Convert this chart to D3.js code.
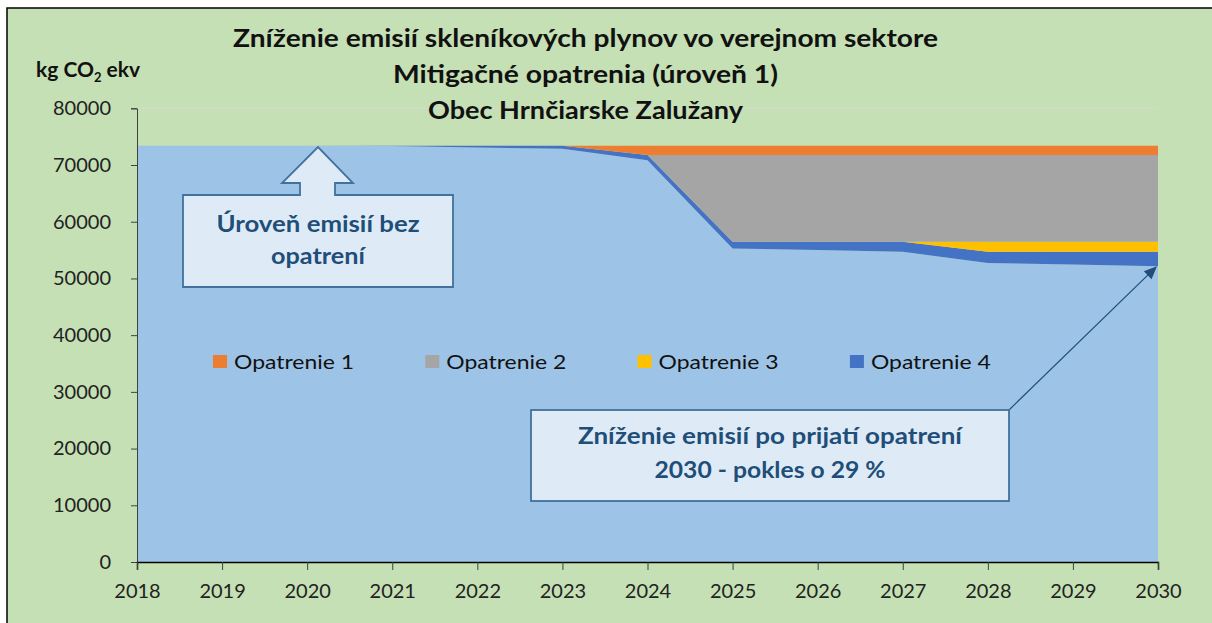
<!DOCTYPE html>
<html>
<head>
<meta charset="utf-8">
<script src="https://cdn.jsdelivr.net/npm/d3@7"></script>
<style>
	body { margin: 0; background: #fff; }
	svg { display: block; font-family: Lato, "Open Sans", sans-serif; }
</style>
</head>
<body>
<div id="chart"></div>
<script>
// roky a hodnoty (kg CO2 ekv) odčítané z grafu
const years = [2018, 2019, 2020, 2021, 2022, 2023, 2024, 2025, 2026, 2027, 2028, 2029, 2030];
const zostatok = [73400, 73400, 73400, 73350, 73100, 72850, 70850, 55300, 55000, 54700, 52740, 52470, 52170];
const opatrenie4 = [0, 0, 0, 50, 300, 550, 900, 1150, 1450, 1750, 1950, 2220, 2520];
const opatrenie3 = [0, 0, 0, 0, 0, 0, 0, 0, 0, 0, 1760, 1760, 1760];
const opatrenie2 = [0, 0, 0, 0, 0, 0, 0, 15300, 15300, 15300, 15300, 15300, 15300];
const opatrenie1 = [0, 0, 0, 0, 0, 0, 1650, 1650, 1650, 1650, 1650, 1650, 1650];

const yTicks = [0, 10000, 20000, 30000, 40000, 50000, 60000, 70000, 80000];
const legendNames = ["Opatrenie 1", "Opatrenie 2", "Opatrenie 3", "Opatrenie 4"];
const titleLines = [
	"Zníženie emisií skleníkových plynov vo verejnom sektore",
	"Mitigačné opatrenia (úroveň 1)",
	"Obec Hrnčiarske Zalužany"
];

const keys = ["zostatok", "op4", "op3", "op2", "op1"];
const colors = { zostatok: "#9DC3E6", op4: "#4472C4", op3: "#FFC000", op2: "#A5A5A5", op1: "#ED7D31" };
const legendKeys = ["op1", "op2", "op3", "op4"];

const table = years.map((y, i) => ({
	year: y,
	zostatok: zostatok[i],
	op4: opatrenie4[i],
	op3: opatrenie3[i],
	op2: opatrenie2[i],
	op1: opatrenie1[i]
}));

const W = 1212, H = 623;
const svg = d3.select("#chart")
	.append("svg")
	.attr("width", W)
	.attr("height", H);

svg.append("rect")
	.attr("x", 7).attr("y", 8)
	.attr("width", 1300).attr("height", 700)
	.attr("fill", "#C5E0B4")
	.attr("stroke", "#000")
	.attr("stroke-width", 1.5);

const x = d3.scaleLinear().domain([2018, 2030]).range([137, 1158]);
const y = d3.scaleLinear().domain([0, 80000]).range([562, 108.3]);

// mriežka
svg.append("g")
	.selectAll("line")
	.data(yTicks.slice(1))
	.enter()
	.append("line")
	.attr("x1", x(2018)).attr("x2", x(2030))
	.attr("y1", (d) => y(d)).attr("y2", (d) => y(d))
	.attr("stroke", "#D9D9D9")
	.attr("stroke-width", 1);

const stack = d3.stack().keys(keys);
const area = d3.area()
	.x((d) => x(d.data.year))
	.y0((d) => y(d[0]))
	.y1((d) => y(d[1]));

svg.append("g")
	.selectAll("path")
	.data(stack(table))
	.enter()
	.append("path")
	.attr("fill", (d) => colors[d.key])
	.attr("d", area);

// osi
const yAxis = svg.append("g")
	.attr("transform", "translate(" + x(2018) + ",0)")
	.call(d3.axisLeft(y).tickValues(yTicks).tickSize(6).tickPadding(20).tickFormat(d3.format("d")));
yAxis.select(".domain").attr("stroke", "#404040");
yAxis.selectAll(".tick line").attr("stroke", "#404040");
yAxis.selectAll("text")
	.attr("font-size", 20)
	.attr("fill", "#222")
	.attr("font-family", "Lato, sans-serif");

const xAxis = svg.append("g")
	.attr("transform", "translate(0," + y(0) + ")")
	.call(d3.axisBottom(x).tickValues(years).tickSize(8).tickPadding(14).tickFormat(d3.format("d")));
xAxis.select(".domain").attr("stroke", "#000").attr("stroke-width", 1.5);
xAxis.selectAll(".tick line").attr("stroke", "#404040");
xAxis.selectAll("text")
	.attr("font-size", 20)
	.attr("fill", "#222")
	.attr("font-family", "Lato, sans-serif");

// nadpis
const titleWidths = [705, 385, 315];
svg.append("g")
	.selectAll("text")
	.data(titleLines)
	.enter()
	.append("text")
	.attr("x", 585.5)
	.attr("y", (d, i) => 47 + i * 36)
	.attr("text-anchor", "middle")
	.attr("font-size", 24)
	.attr("font-weight", "bold")
	.attr("fill", "#111")
	.attr("textLength", (d, i) => titleWidths[i])
	.attr("lengthAdjust", "spacingAndGlyphs")
	.text((d) => d);

// jednotka
const unit = svg.append("text")
	.attr("x", 36).attr("y", 77)
	.attr("font-size", 21)
	.attr("font-weight", "bold")
	.attr("fill", "#111");
unit.append("tspan").text("kg CO");
unit.append("tspan").attr("font-size", 13).attr("dy", 5).text("2");
unit.append("tspan").attr("dy", -5).text(" ekv");

// legenda
const legend = svg.append("g")
	.selectAll("g")
	.data(legendKeys)
	.enter()
	.append("g")
	.attr("transform", (d, i) => "translate(" + (213 + i * 212.3) + ",355)");
legend.append("rect")
	.attr("width", 14).attr("height", 13)
	.attr("fill", (d) => colors[d]);
legend.append("text")
	.attr("x", 21).attr("y", 14)
	.attr("font-size", 20)
	.attr("fill", "#111")
	.attr("textLength", 120)
	.attr("lengthAdjust", "spacingAndGlyphs")
	.text((d, i) => legendNames[i]);

// popis 1 - šípka hore
const boxFill = "#DEEBF7", boxStroke = "#41719C", boxText = "#1F4E79";
svg.append("path")
	.attr("d", "M183,195 H300 V183 H282 L318,147 L353,183 H335 V195 H453 V287 H183 Z")
	.attr("fill", boxFill)
	.attr("stroke", boxStroke)
	.attr("stroke-width", 1.8);
const box1Lines = ["Úroveň emisií bez", "opatrení"];
const box1Widths = [203, 94];
svg.append("g")
	.selectAll("text")
	.data(box1Lines)
	.enter()
	.append("text")
	.attr("x", 318)
	.attr("y", (d, i) => 232 + i * 32)
	.attr("text-anchor", "middle")
	.attr("font-size", 23)
	.attr("font-weight", "bold")
	.attr("fill", boxText)
	.attr("textLength", (d, i) => box1Widths[i])
	.attr("lengthAdjust", "spacingAndGlyphs")
	.text((d) => d);

// popis 2 - šípka na rok 2030
const lastIdx = years.length - 1;
const tip = [x(years[lastIdx]) - 1, y(zostatok[lastIdx])];
const start = [1009, 410];
const ang = Math.atan2(tip[1] - start[1], tip[0] - start[0]);
svg.append("line")
	.attr("x1", start[0]).attr("y1", start[1])
	.attr("x2", tip[0] - 10 * Math.cos(ang)).attr("y2", tip[1] - 10 * Math.sin(ang))
	.attr("stroke", "#1F4E79")
	.attr("stroke-width", 1.2);
const ah = 13, aw = 5.5;
const bx = tip[0] - ah * Math.cos(ang), by = tip[1] - ah * Math.sin(ang);
svg.append("path")
	.attr("d", "M" + tip[0] + "," + tip[1] +
		" L" + (bx + aw * Math.sin(ang)) + "," + (by - aw * Math.cos(ang)) +
		" L" + (bx - aw * Math.sin(ang)) + "," + (by + aw * Math.cos(ang)) + " Z")
	.attr("fill", "#1F4E79");

svg.append("rect")
	.attr("x", 531).attr("y", 410)
	.attr("width", 478).attr("height", 91)
	.attr("fill", boxFill)
	.attr("stroke", boxStroke)
	.attr("stroke-width", 1.8);
const box2Lines = ["Zníženie emisií po prijatí opatrení", "2030 - pokles o 29 %"];
const box2Widths = [384, 231];
svg.append("g")
	.selectAll("text")
	.data(box2Lines)
	.enter()
	.append("text")
	.attr("x", 770)
	.attr("y", (d, i) => 444 + i * 33.5)
	.attr("text-anchor", "middle")
	.attr("font-size", 23)
	.attr("font-weight", "bold")
	.attr("fill", boxText)
	.attr("textLength", (d, i) => box2Widths[i])
	.attr("lengthAdjust", "spacingAndGlyphs")
	.text((d) => d);
</script>
</body>
</html>
